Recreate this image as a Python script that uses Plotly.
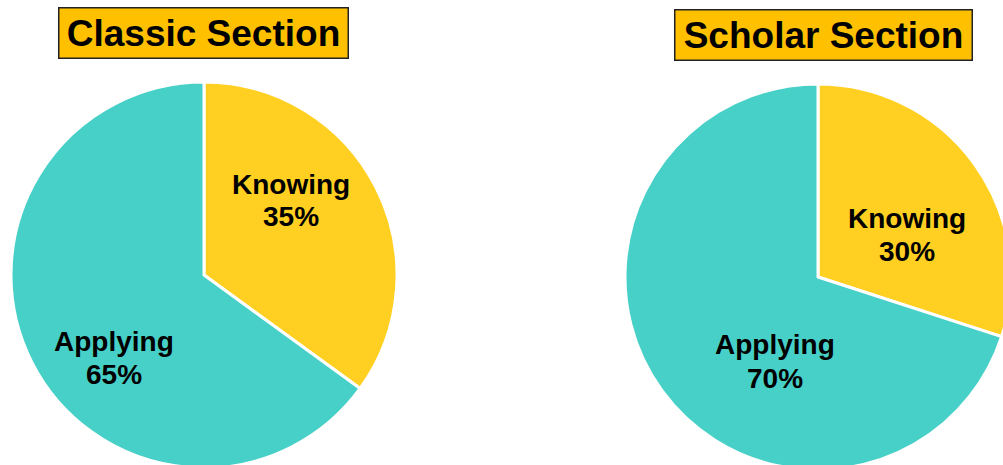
import plotly.graph_objects as go

# ---- data ----
sections = ["Classic Section", "Scholar Section"]
labels = ["Knowing", "Applying"]
classic_values = [35, 65]
scholar_values = [30, 70]

# ---- styling / layout ----
W, H = 1015, 470
FONT = "Liberation Sans, Arial, sans-serif"
colors = ["#FFD022", "#47D0C7"]

def px_x(x):
    return x / W

def px_y(y):
    return 1 - y / H

# pies: (center_x, center_y, radius) in pixels from top-left
pie_geom = [(204, 275, 193), (818, 277, 193)]

fig = go.Figure()
for (cx, cy, r), vals, name in zip(pie_geom, [classic_values, scholar_values], sections):
    x0, x1 = (cx - r) / W, (cx + r) / W
    y0, y1 = 1 - (cy + r) / H, 1 - (cy - r) / H
    fig.add_trace(go.Pie(
        labels=labels, values=vals, name=name,
        sort=False, direction="clockwise", rotation=0,
        marker=dict(colors=colors, line=dict(color="white", width=3)),
        textinfo="none", hoverinfo="label+percent",
        domain=dict(x=[max(0, x0), min(1, x1)], y=[max(0, y0), min(1, y1)]),
        showlegend=False,
    ))

# slice label positions (pixels): (x, y of name line, y of percent line)
label_pos = [
    [(291, 184, 216), (114, 341, 374)],
    [(907, 219, 251), (775, 344, 378)],
]
annotations = []
for vals, pos in zip([classic_values, scholar_values], label_pos):
    for lab, v, (x, y1, y2) in zip(labels, vals, pos):
        for txt, yy in ((lab, y1), (f"{v}%", y2)):
            annotations.append(dict(
                text=f"<b>{txt}</b>", x=px_x(x), y=px_y(yy),
                xref="paper", yref="paper", showarrow=False,
                font=dict(family=FONT, size=28, color="black"),
                xanchor="center", yanchor="middle",
            ))

# title boxes
title_pos = [((57, 349), (7, 60)), ((673, 973), (9, 62))]
for name, ((xa, xb), (ya, yb)) in zip(sections, title_pos):
    annotations.append(dict(
        text=f"<b>{name}</b>", x=px_x((xa + xb) / 2), y=px_y((ya + yb) / 2),
        xref="paper", yref="paper", showarrow=False,
        xanchor="center", yanchor="middle",
        width=xb - xa - 4, height=yb - ya - 4,
        font=dict(family=FONT, size=37, color="black"),
        bgcolor="#FFC000", bordercolor="#222222", borderwidth=1.5, borderpad=0,
    ))

fig.update_layout(
    width=W, height=H,
    margin=dict(l=0, r=0, t=0, b=0),
    paper_bgcolor="white", plot_bgcolor="white",
    annotations=annotations,
)
fig.write_html(
    "out.html",
    config={"displayModeBar": False},
    post_script="document.body.style.margin='0';document.body.style.overflow='hidden';"
                "document.documentElement.style.overflow='hidden';",
)
